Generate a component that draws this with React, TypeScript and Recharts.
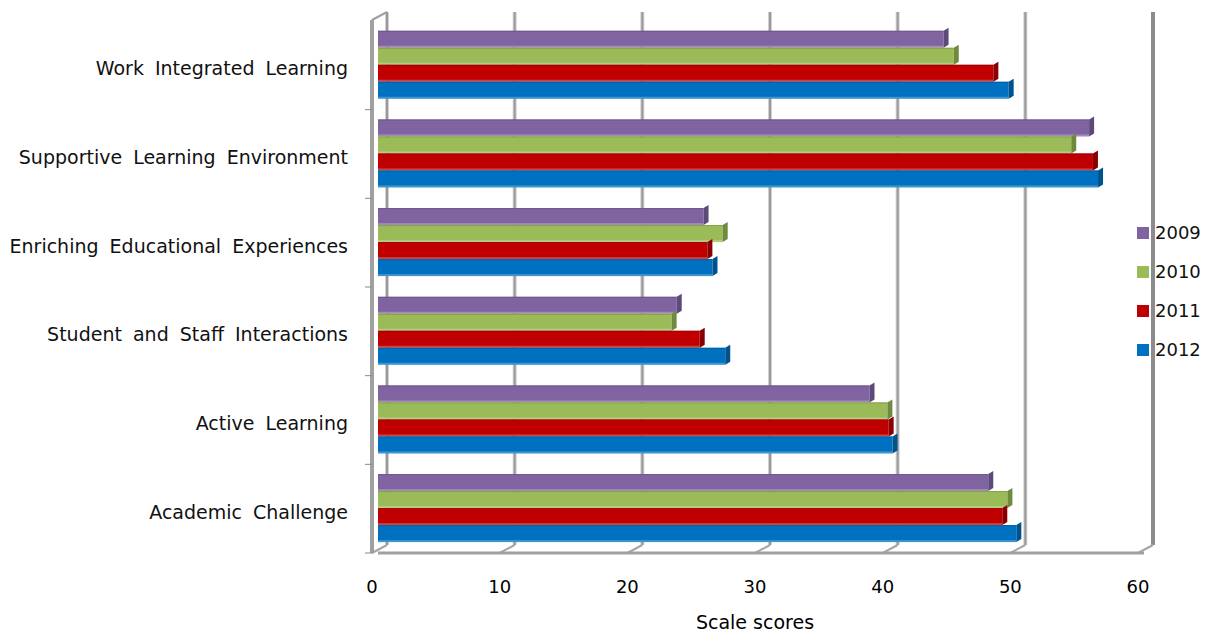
import { Bar, BarChart, CartesianGrid, XAxis, YAxis } from "recharts";

const categories = [
  "Work Integrated Learning",
  "Supportive Learning Environment",
  "Enriching Educational Experiences",
  "Student and Staff Interactions",
  "Active Learning",
  "Academic Challenge",
];

const years = ["2009", "2010", "2011", "2012"];
const colors = ["#8064A2", "#9BBB59", "#C00000", "#0070C0"];
const sides = ["#5E4A7A", "#6F8A3C", "#8A0000", "#00528C"];

const v2009 = [44.3, 55.7, 25.5, 23.4, 38.5, 47.8];
const v2010 = [45.1, 54.3, 27.0, 23.0, 39.9, 49.3];
const v2011 = [48.2, 56.0, 25.8, 25.2, 40.0, 48.9];
const v2012 = [49.4, 56.4, 26.2, 27.2, 40.3, 50.0];

const xTicks = [0, 10, 20, 30, 40, 50, 60];

const data = categories.map((name, i) => ({
  name,
  y2009: v2009[i],
  y2010: v2010[i],
  y2011: v2011[i],
  y2012: v2012[i],
}));

const FONT = "'DejaVu Sans', Tahoma, sans-serif";
const DEPTH_FRONT = 6; // front plane sits left of the bars
const DEPTH_BACK = 9;
const RISE = 8;

// 3D-ish bar: front face + darker end cap
function bar3d(i: number) {
  return (props: any) => {
    const { x, y, width, height } = props;
    if (!width || width <= 0) return <g />;
    const r = x + width;
    return (
      <g>
        <rect x={x} y={y} width={width} height={height} fill={colors[i]} />
        <rect x={x} y={y + height - 2} width={width} height={2} fill="#ffffff" opacity={0.25} />
        <rect x={x} y={y} width={width} height={1} fill={sides[i]} opacity={0.6} />
        <polygon
          points={`${r},${y} ${r + 5},${y - 3} ${r + 5},${y + height - 3} ${r},${y + height}`}
          fill={sides[i]}
        />
      </g>
    );
  };
}

function gridLine(props: any) {
  const { x1, y1, y2, index } = props;
  const top = 12;
  const floorBack = y2 - RISE;
  const isLast = index === xTicks.length - 1;
  const bx = x1 + DEPTH_BACK;
  const fx = x1 - DEPTH_FRONT;
  const n = categories.length;
  const step = (y2 - y1) / n;
  return (
    <g key={`vg-${index}`}>
      {isLast ? (
        <line x1={bx} y1={top} x2={bx} y2={floorBack} stroke="#8C8C8C" strokeWidth={4} />
      ) : (
        <g>
          <line x1={bx} y1={top} x2={bx} y2={floorBack} stroke="#D0D0D0" strokeWidth={4} />
          <line x1={bx} y1={top} x2={bx} y2={floorBack} stroke="#9A9A9A" strokeWidth={2} />
        </g>
      )}
      <line x1={fx} y1={y2} x2={bx} y2={floorBack} stroke="#A6A6A6" strokeWidth={2} />
      {index === 0 && (
        <g>
          <line x1={fx} y1={y1 - 1} x2={fx} y2={y2} stroke="#A0A0A0" strokeWidth={4} />
          <line x1={fx} y1={y1 - 1} x2={bx} y2={top} stroke="#A0A0A0" strokeWidth={2} />
          {categories.map((c, k) => (
            <line
              key={c}
              x1={fx - 7}
              y1={y1 + step * (k + 1)}
              x2={fx}
              y2={y1 + step * (k + 1)}
              stroke="#8C8C8C"
              strokeWidth={1}
            />
          ))}
        </g>
      )}
    </g>
  );
}

function XTick(props: any) {
  const { x, y, payload } = props;
  return (
    <text
      x={x - DEPTH_FRONT}
      y={y + 40}
      textAnchor="middle"
      fontFamily={FONT}
      fontSize={18}
      fill="#000"
    >
      {payload.value}
    </text>
  );
}

function YTick(props: any) {
  const { x, y, payload } = props;
  return (
    <text
      x={x}
      y={y + 10}
      textAnchor="end"
      fontFamily={FONT}
      fontSize={19}
      fill="#111"
      style={{ wordSpacing: 5 }}
    >
      {payload.value}
    </text>
  );
}

function LegendBox() {
  return (
    <div
      style={{
        position: "absolute",
        left: 1137,
        top: 213,
        fontFamily: FONT,
        fontSize: 18,
        color: "#111",
      }}
    >
      {years.map((yr, i) => (
        <div
          key={yr}
          style={{ display: "flex", alignItems: "center", height: 39 }}
        >
          <span
            style={{
              display: "inline-block",
              width: 12,
              height: 12,
              background: colors[i],
              marginRight: 6,
            }}
          />
          {yr}
        </div>
      ))}
    </div>
  );
}

export default function App() {
  return (
    <div
      style={{
        position: "absolute",
        left: 0,
        top: 0,
        width: 1211,
        height: 635,
        background: "#fff",
      }}
    >
      <BarChart
        width={1211}
        height={635}
        data={data}
        layout="vertical"
        margin={{ top: 21, right: 67, bottom: 0, left: 0 }}
        barCategoryGap="11%"
        barGap={0}
      >
        <CartesianGrid horizontal={false} vertical={gridLine} />
        <XAxis
          type="number"
          domain={[0, 60]}
          ticks={xTicks}
          tick={XTick}
          tickSize={0}
          tickMargin={0}
          axisLine={{ stroke: "#A0A0A0", strokeWidth: 3 }}
          height={82}
          label={{
            value: "Scale scores",
            position: "insideBottom",
            offset: 6,
            dx: -6,
            fontFamily: FONT,
            fontSize: 19,
            fill: "#000",
          }}
        />
        <YAxis
          type="category"
          dataKey="name"
          width={378}
          tick={YTick}
          tickSize={0}
          tickMargin={30}
          axisLine={false}
          tickLine={false}
          interval={0}
        />
        {years.map((yr, i) => (
          <Bar
            key={yr}
            dataKey={`y${yr}`}
            name={yr}
            fill={colors[i]}
            shape={bar3d(i)}
            isAnimationActive={false}
          />
        ))}
      </BarChart>
      <LegendBox />
    </div>
  );
}
